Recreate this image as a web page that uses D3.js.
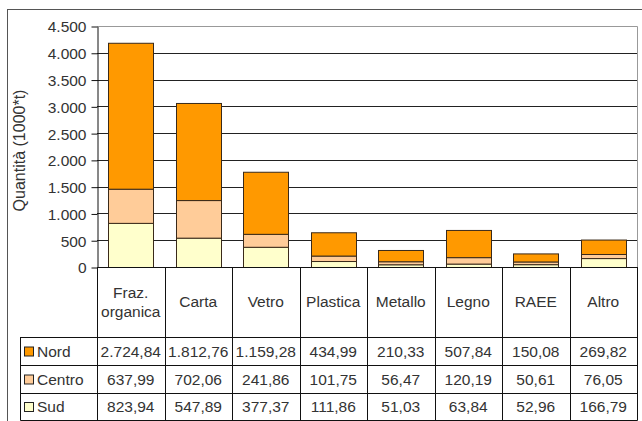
<!DOCTYPE html>
<html><head><meta charset="utf-8">
<script src="https://cdn.jsdelivr.net/npm/d3@7"></script>
<style>
html,body{margin:0;padding:0;background:#fff;}
svg text{font-family:Arial,"Liberation Sans",sans-serif;fill:#333;}
</style></head>
<body><svg id="c" width="642" height="421"></svg>
<script>
const categories = ["Fraz. organica","Carta","Vetro","Plastica","Metallo","Legno","RAEE","Altro"];
const seriesNames = ["Nord","Centro","Sud"];
const nord   = [2724.84,1812.76,1159.28,434.99,210.33,507.84,150.08,269.82];
const centro = [637.99,702.06,241.86,101.75,56.47,120.19,50.61,76.05];
const sud    = [823.94,547.89,377.37,111.86,51.03,63.84,52.96,166.79];
const yTicks = [0,500,1000,1500,2000,2500,3000,3500,4000,4500];
const colors = {Nord:"#FF9900", Centro:"#FFCC99", Sud:"#FFFFCC"};

const loc = d3.formatLocale({decimal:",", thousands:".", grouping:[3], currency:["","€"]});
const fmtVal = loc.format(",.2f");
const fmtTick = loc.format(",.0f");

const svg = d3.select("#c");
const L = 97, R = 637, T = 26, B = 267;
const rowTop = [337, 365, 393], rowBot = 420, legL = 20;

// outer frame
svg.append("rect").attr("x",7.5).attr("y",9.5).attr("width",700).attr("height",500)
  .attr("fill","none").attr("stroke","#555").attr("stroke-width",1);

const x = d3.scaleBand().domain(categories).range([L,R]).paddingInner(1/3).paddingOuter(1/6);
const y = d3.scaleLinear().domain([0,4500]).range([B,T]);

// plot area border (top/right gray)
svg.append("path").attr("d",`M${L},${T+0.5}H${R+0.5}V${B}`).attr("fill","none").attr("stroke","#999");

// gridlines
svg.append("g").selectAll("line").data(yTicks.filter(d=>d>0 && d<4500)).join("line")
  .attr("x1",L).attr("x2",R).attr("y1",d=>Math.round(y(d))+0.5).attr("y2",d=>Math.round(y(d))+0.5)
  .attr("stroke","#222").attr("stroke-width",1);

// y axis
const yAxis = d3.axisLeft(y).tickValues(yTicks).tickFormat(fmtTick).tickSizeOuter(0).tickSizeInner(6).tickPadding(5);
const ga = svg.append("g").attr("transform",`translate(${L+0.5},0.5)`).call(yAxis);
ga.select(".domain").attr("stroke","#111");
ga.selectAll(".tick line").attr("stroke","#111");
ga.selectAll(".tick text").attr("font-size","15.5px").attr("fill","#333").attr("dy","0.35em")
  .attr("font-family","Arial, 'Liberation Sans', sans-serif");

// stacked bars
const rows = categories.map((c,i)=>({cat:c, Nord:nord[i], Centro:centro[i], Sud:sud[i]}));
const stack = d3.stack().keys(["Sud","Centro","Nord"])(rows);
svg.append("g").selectAll("g").data(stack).join("g")
  .attr("fill",s=>colors[s.key])
  .selectAll("rect").data(s=>s).join("rect")
  .attr("x",d=>Math.round(x(d.data.cat))+0.5)
  .attr("width",x.bandwidth())
  .attr("y",d=>y(d[1])+0.5)
  .attr("height",d=>y(d[0])-y(d[1]))
  .attr("stroke","#3a2a1a").attr("stroke-width",1);

// axis baseline
svg.append("line").attr("x1",L).attr("x2",R+0.5).attr("y1",B+0.5).attr("y2",B+0.5).attr("stroke","#111");

// y title
svg.append("text").attr("transform",`translate(25,${(T+B)/2+4}) rotate(-90)`)
  .attr("text-anchor","middle").attr("font-size","16px").attr("fill","#444")
  .text("Quantità (1000*t)");

// data table
const tbl = svg.append("g").attr("stroke","#111").attr("stroke-width",1).attr("fill","none");
const xb = d3.range(categories.length+1).map(i=>L + i*(R-L)/categories.length);
tbl.selectAll("line.v").data(xb).join("line").attr("class","v")
  .attr("x1",d=>Math.round(d)+0.5).attr("x2",d=>Math.round(d)+0.5).attr("y1",B).attr("y2",rowBot+0.5);
tbl.selectAll("line.h").data(rowTop.concat([rowBot])).join("line").attr("class","h")
  .attr("x1",legL+0.5).attr("x2",R+0.5).attr("y1",d=>d+0.5).attr("y2",d=>d+0.5);
tbl.append("line").attr("x1",legL+0.5).attr("x2",legL+0.5).attr("y1",rowTop[0]).attr("y2",rowBot+0.5);

// category headers
const hdr = svg.append("g").attr("font-size","15.5px").attr("text-anchor","middle");
categories.forEach((c,i)=>{
  const cx = x(c)+x.bandwidth()/2;
  const parts = c.split(" ");
  const cy = (B+rowTop[0])/2;
  parts.forEach((p,j)=>{
    hdr.append("text").attr("x",cx).attr("y",cy + (j-(parts.length-1)/2)*19).attr("dy","0.35em").text(p);
  });
});

// data rows
const seriesData = [nord, centro, sud];
seriesNames.forEach((s,r)=>{
  const cy = (rowTop[r] + (r<2?rowTop[r+1]:rowBot))/2 + 0.5;
  svg.append("rect").attr("x",24.5).attr("y",cy-4.5).attr("width",9).attr("height",9)
    .attr("fill",colors[s]).attr("stroke","#222");
  svg.append("text").attr("x",37).attr("y",cy).attr("dy","0.35em").attr("font-size","15.5px").text(s);
  svg.append("g").selectAll("text").data(seriesData[r]).join("text")
    .attr("x",(d,i)=>x(categories[i])+x.bandwidth()/2).attr("y",cy).attr("dy","0.35em")
    .attr("text-anchor","middle").attr("font-size","15.5px").text(d=>fmtVal(d));
});
</script></body></html>
